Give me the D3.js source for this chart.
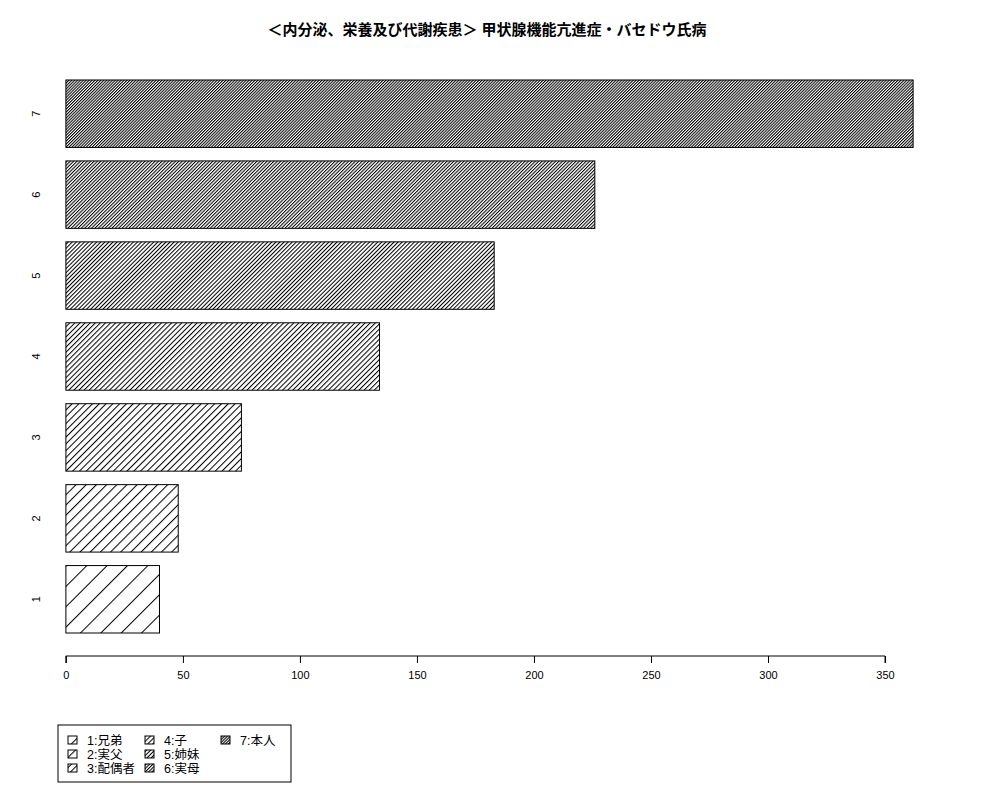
<!DOCTYPE html>
<html>
<head>
<meta charset="utf-8">
<script src="https://cdn.jsdelivr.net/npm/d3@7/dist/d3.min.js"></script>
<style>
  html, body { margin: 0; padding: 0; background: #fff; }
  svg { display: block; }
  text { font-family: "Liberation Sans", "Noto Sans CJK JP", sans-serif; }
</style>
</head>
<body>
<script>
const title = "＜内分泌、栄養及び代謝疾患＞ 甲状腺機能亢進症・バセドウ氏病";
const categories = ["1", "2", "3", "4", "5", "6", "7"];
const values = [40, 48, 75, 134, 183, 226, 362];
const densities = [5, 10, 15, 20, 25, 30, 35];
const legendLabels = ["1:兄弟", "2:実父", "3:配偶者", "4:子", "5:姉妹", "6:実母", "7:本人"];
const xTicks = [0, 50, 100, 150, 200, 250, 300, 350];

const W = 1000, H = 800;
const svg = d3.select("body").append("svg").attr("width", W).attr("height", H);
const defs = svg.append("defs");

// hatch patterns (lines per inch at 72 dpi, 45 degrees)
densities.forEach((d, i) => {
  const sp = 72 / d;
  const p = defs.append("pattern")
    .attr("id", "hatch" + i)
    .attr("patternUnits", "userSpaceOnUse")
    .attr("width", sp).attr("height", 20)
    .attr("patternTransform", "rotate(45)");
  p.append("line").attr("x1", 0.5).attr("y1", -5).attr("x2", 0.5).attr("y2", 25)
    .attr("stroke", "#000").attr("stroke-width", 1.05);
});

// scales: R barplot horiz, width 1, space 0.2, 4% axis extension
const xMax = d3.max(values);
const xPad = 0.04 * xMax;
const x = d3.scaleLinear().domain([-xPad, xMax + xPad]).range([32, 947]);
const yTotal = categories.length * 1.2 + 0.2;
const yPad = 0.04 * yTotal;
const y = d3.scaleLinear().domain([-yPad, yTotal + yPad]).range([669.7, 43.3]);

// bars
const bars = svg.append("g");
categories.forEach((c, i) => {
  const y0 = 0.2 + i * 1.2, y1 = y0 + 1;
  bars.append("rect")
    .attr("x", x(0))
    .attr("y", y(y1))
    .attr("width", x(values[i]) - x(0))
    .attr("height", y(y0) - y(y1))
    .attr("fill", "url(#hatch" + i + ")")
    .attr("stroke", "#000")
    .attr("stroke-width", 1);
  svg.append("text")
    .attr("transform", `translate(40,${(y(y0) + y(y1)) / 2}) rotate(-90)`)
    .attr("text-anchor", "middle")
    .attr("font-size", 11)
    .text(c);
});

// x axis
const axisY = 656;
const axis = d3.axisBottom(x).tickValues(xTicks).tickSize(7).tickPadding(8).tickFormat(d3.format("d"));
const ag = svg.append("g").attr("transform", `translate(0,${axisY})`).call(axis);
ag.select(".domain").attr("d", `M${x(xTicks[0])},7V0H${x(xTicks[xTicks.length - 1])}V7`).attr("stroke", "#000");
ag.selectAll(".tick line").attr("stroke", "#000");
ag.selectAll(".tick text").attr("font-size", 11).attr("font-family", "Liberation Sans, sans-serif").attr("fill", "#000");

// title
svg.append("text")
  .attr("x", 487).attr("y", 35)
  .attr("text-anchor", "middle")
  .attr("font-size", 15)
  .attr("font-weight", "bold")
  .text(title);

// legend
const lg = svg.append("g");
lg.append("rect").attr("x", 58).attr("y", 725).attr("width", 233).attr("height", 57)
  .attr("fill", "none").attr("stroke", "#000").attr("stroke-width", 1);
const colX = [68, 145, 221];
const rowY = [740, 754, 768];
legendLabels.forEach((lab, i) => {
  const col = Math.floor(i / 3), row = i % 3;
  const cx = colX[col], cy = rowY[row];
  lg.append("rect").attr("x", cx).attr("y", cy - 4).attr("width", 9).attr("height", 8)
    .attr("fill", "url(#hatch" + i + ")").attr("stroke", "#000").attr("stroke-width", 1);
  lg.append("text").attr("x", cx + 19).attr("y", cy + 4.5)
    .attr("font-size", 12.5).text(lab);
});
</script>
</body>
</html>
